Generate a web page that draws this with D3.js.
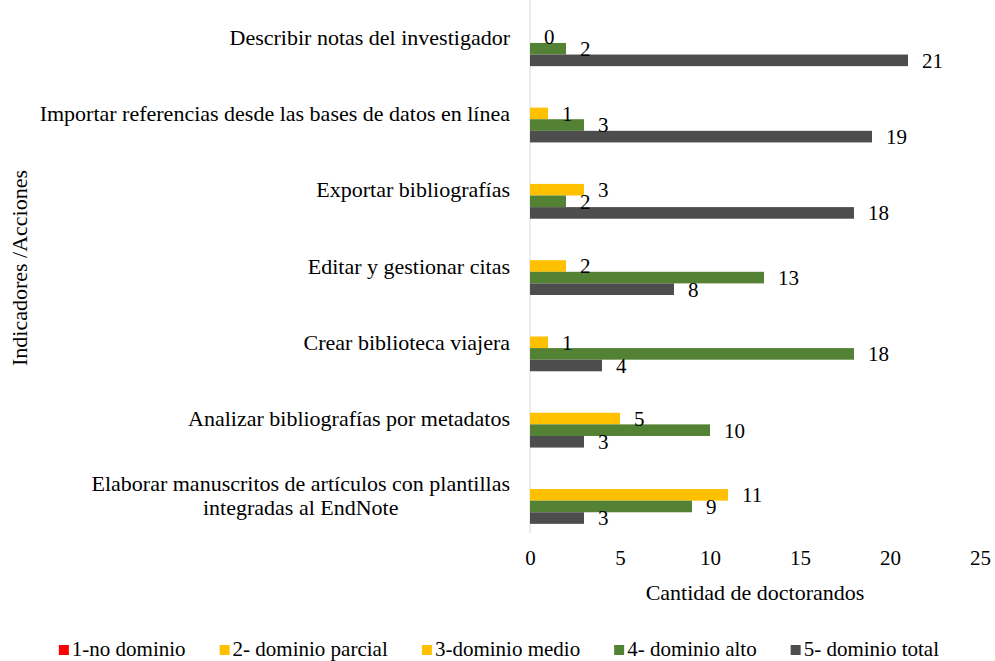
<!DOCTYPE html>
<html>
<head>
<meta charset="utf-8">
<script src="https://cdn.jsdelivr.net/npm/d3@7"></script>
<style>
  body { margin: 0; background: #fff; }
</style>
</head>
<body>
<svg id="chart" width="995" height="661"></svg>
<script>
// categories, top to bottom
const categories = [
    'Describir notas del investigador',
    'Importar referencias desde las bases de datos en línea',
    'Exportar bibliografías',
    'Editar y gestionar citas',
    'Crear biblioteca viajera',
    'Analizar bibliografías por metadatos',
    'Elaborar manuscritos de artículos con plantillas\nintegradas al EndNote'
]

const seriesNames = ['1-no dominio', '2- dominio parcial', '3-dominio medio', '4- dominio alto', '5- dominio total']

// values per series (null = no bar)
const noDominio      = [null, null, null, null, null, null, null]
const dominioParcial = [null, null, null, null, null, null, null]
const dominioMedio   = [0, 1, 3, 2, 1, 5, 11]
const dominioAlto    = [2, 3, 2, 13, 18, 10, 9]
const dominioTotal   = [21, 19, 18, 8, 4, 3, 3]

const xTicks = [0, 5, 10, 15, 20, 25]

const seriesColors = ['#ff0000', '#ffc000', '#ffc000', '#548235', '#4d4d4d']

const seriesValues = [noDominio, dominioParcial, dominioMedio, dominioAlto, dominioTotal]

const FONT = '"Liberation Serif", "Times New Roman", serif'

const svg = d3.select('#chart')

const margin = { left: 530, right: 15, top: -1, bottom: 533 }

const x = d3.scaleLinear()
    .domain([0, 25])
    .range([margin.left, 995 - margin.right])

const y = d3.scaleBand()
    .domain(categories)
    .range([margin.top, margin.bottom])

const groupHeight = 58
const slot = d3.scaleBand()
    .domain(d3.range(seriesNames.length))
    .range([0, groupHeight])
const offset = (y.bandwidth() - groupHeight) / 2

// flat list of bars
let bars = []
categories.forEach((cat, i) => {
    seriesValues.forEach((values, s) => {
        if (values[i] === null) return
        bars.push({ cat: cat, series: s, value: values[i] })
    })
})

// vertical axis line
svg.append('line')
    .attr('x1', x(0)).attr('x2', x(0))
    .attr('y1', Math.max(0, margin.top)).attr('y2', margin.bottom)
    .attr('stroke', '#d9d9d9')
    .attr('stroke-width', 1)

svg.append('g')
    .selectAll('rect')
    .data(bars)
    .join('rect')
    .attr('x', x(0))
    .attr('y', d => y(d.cat) + offset + slot(d.series))
    .attr('width', d => x(d.value) - x(0))
    .attr('height', slot.bandwidth())
    .attr('fill', d => seriesColors[d.series])

// data labels
svg.append('g')
    .selectAll('text')
    .data(bars)
    .join('text')
    .attr('x', d => x(d.value) + 14)
    .attr('y', d => y(d.cat) + offset + slot(d.series) + slot.bandwidth() / 2)
    .attr('dy', '0.35em')
    .attr('font-size', 21)
    .style('font-family', FONT)
    .attr('fill', '#000')
    .text(d => d.value)

// category labels (multi-line ones are centred as a block, block right-aligned)
const labelRight = x(0) - 20
const lineHeight = 24
categories.forEach(cat => {
    const lines = cat.split('\n')
    const t = svg.append('text')
        .attr('font-size', 22)
        .style('font-family', FONT)
        .attr('fill', '#000')
    lines.forEach((line, k) => {
        t.append('tspan')
            .attr('y', y(cat) + offset + slot(2) + slot.bandwidth() / 2 + (k - (lines.length - 1) / 2) * lineHeight)
            .attr('dy', '0.35em')
            .text(line)
    })
    if (lines.length === 1) {
        t.attr('text-anchor', 'end')
        t.selectAll('tspan').attr('x', labelRight)
    } else {
        const widths = t.selectAll('tspan').nodes().map(n => n.getComputedTextLength())
        const w = d3.max(widths)
        t.attr('text-anchor', 'middle')
        t.selectAll('tspan').attr('x', labelRight - w / 2)
    }
})

// x axis ticks
const xAxis = svg.append('g')
    .attr('transform', `translate(0,${margin.bottom})`)
    .call(d3.axisBottom(x).tickValues(xTicks).tickSize(0).tickPadding(17))
xAxis.select('.domain').remove()
xAxis.selectAll('text')
    .attr('font-size', 21)
    .style('font-family', FONT)
    .attr('fill', '#000')

// axis titles
svg.append('text')
    .attr('x', (x(0) + x(25)) / 2)
    .attr('y', 600)
    .attr('text-anchor', 'middle')
    .attr('font-size', 22)
    .style('font-family', FONT)
    .text('Cantidad de doctorandos')

svg.append('text')
    .attr('transform', 'translate(19,268) rotate(-90)')
    .attr('text-anchor', 'middle')
    .attr('dy', '0.35em')
    .attr('font-size', 22)
    .style('font-family', FONT)
    .text('Indicadores /Acciones')

// legend
const legend = svg.append('g')
const items = legend.selectAll('g')
    .data(seriesNames)
    .join('g')
items.append('rect')
    .attr('width', 10).attr('height', 10)
    .attr('y', 645)
    .attr('fill', (d, i) => seriesColors[i])
items.append('text')
    .attr('x', 13)
    .attr('y', 656)
    .attr('font-size', 21)
    .style('font-family', FONT)
    .text(d => d)

const gap = 34
let widths = items.nodes().map(n => n.getBBox().width)
let total = d3.sum(widths) + gap * (widths.length - 1)
let cx = 499 - total / 2
items.each(function(d, i) {
    d3.select(this).attr('transform', `translate(${cx},0)`)
    cx += widths[i] + gap
})
</script>
</body>
</html>
